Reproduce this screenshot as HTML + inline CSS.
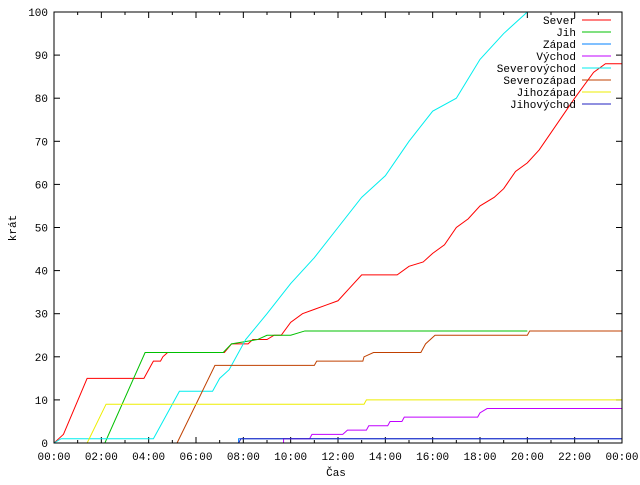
<!DOCTYPE html>
<html><head><meta charset="utf-8"><style>
body{margin:0;background:#fff}
svg text{font-family:"Liberation Mono","DejaVu Sans Mono",monospace;font-size:11px;fill:#000}
</style></head><body>
<svg id="c" width="640" height="480" xmlns="http://www.w3.org/2000/svg">
<rect width="640" height="480" fill="#fff"/>
<g id="grid"></g>
<g id="series"></g>
<rect x="54" y="12" width="568" height="431" fill="none" stroke="#000"/>
<text x="336" y="476" text-anchor="middle">Čas</text>
<text transform="translate(16,228) rotate(-90)" text-anchor="middle">krát</text>
<g id="legend"></g>
</svg>
<script>
const seriesNames=["Sever","Jih","Západ","Východ","Severovýchod","Severozápad","Jihozápad","Jihovýchod"];
const seriesColors=["#ff0000","#00c000","#0080ff","#c000ff","#00eeee","#c04000","#eeee00","#2020c0"];
const xTickLabels=["00:00","02:00","04:00","06:00","08:00","10:00","12:00","14:00","16:00","18:00","20:00","22:00","00:00"];
const yTicks=[0,10,20,30,40,50,60,70,80,90,100];
// [hour, count] pairs
const sever=[[0,0],[0.2,1],[0.4,2],[1.4,15],[3.8,15],[4.1,18],[4.2,19],[4.5,19],[4.6,20],[4.8,21],[7.2,21],[7.5,23],[8.2,23],[8.4,24],[9.0,24],[9.3,25],[9.6,25],[10.0,28],[10.5,30],[11.0,31],[11.5,32],[12.0,33],[12.5,36],[13.0,39],[14.5,39],[15.0,41],[15.6,42],[16.0,44],[16.5,46],[17.0,50],[17.5,52],[18.0,55],[18.6,57],[19.0,59],[19.5,63],[20.0,65],[20.5,68],[21.0,72],[21.5,76],[22.0,80],[22.8,86],[23.3,88],[24,88]];
const jih=[[0,0],[2.15,0],[3.85,21],[7.15,21],[7.5,23],[8.6,24],[9.0,25],[10.0,25],[10.6,26],[20.0,26]];
const zapad=[[7.8,0],[7.8,1],[24,1]];
const vychod=[[9.7,0],[9.7,1],[10.8,1],[10.9,2],[12.2,2],[12.4,3],[13.2,3],[13.3,4],[14.1,4],[14.2,5],[14.7,5],[14.8,6],[17.9,6],[18.0,7],[18.3,8],[24,8]];
const severovychod=[[0,0],[0.3,1],[4.2,1],[5.3,12],[6.7,12],[7.0,15],[7.4,17],[8.1,24],[9.0,30],[10.0,37],[11.0,43],[12.0,50],[13.0,57],[14.0,62],[15.0,70],[16.0,77],[17.0,80],[18.0,89],[19.0,95],[20.0,100]];
const severozapad=[[5.2,0],[6.8,18],[11.0,18],[11.1,19],[13.05,19],[13.1,20],[13.5,21],[15.5,21],[15.7,23],[16.1,25],[20.0,25],[20.1,26],[24,26]];
const jihozapad=[[1.4,0],[2.2,9],[13.1,9],[13.2,10],[24,10]];
const jihovychod=[[7.8,0],[7.9,1],[24,1]];
const allSeries=[sever,jih,zapad,vychod,severovychod,severozapad,jihozapad,jihovychod];
const L=54,R=622,T=12,B=443;
const xs=h=>L+h/24*(R-L), ys=v=>B-v/100*(B-T);
const NS="http://www.w3.org/2000/svg";
function mk(t,a,p){const e=document.createElementNS(NS,t);for(const k in a)e.setAttribute(k,a[k]);p.appendChild(e);return e;}
const g=document.getElementById('grid');
yTicks.forEach(v=>{const y=ys(v);
 const t=mk('line',{x1:L,x2:L+6,y1:y,y2:y,stroke:'#000'},g);
 
 mk('line',{x1:R-6,x2:R,y1:y,y2:y,stroke:'#000'},g);
 const tx=mk('text',{x:L-6,y:y+4,'text-anchor':'end'},g);tx.textContent=v;
 });
for(let h=0;h<=24;h++){const x=xs(h),len=h%2?3:6;
 mk('line',{x1:x,x2:x,y1:B,y2:B-len,stroke:'#000'},g);
 mk('line',{x1:x,x2:x,y1:T,y2:T+len,stroke:'#000'},g);}
xTickLabels.forEach((s,i)=>{const tx=mk('text',{x:xs(i*2),y:B+17,'text-anchor':'middle'},g);tx.textContent=s;
 });
const sg=document.getElementById('series');
allSeries.forEach((d,i)=>{let pts=[];d.forEach((p,j)=>{pts.push(xs(p[0])+','+ys(Math.min(p[1],100)));});
 const pl=mk('polyline',{points:pts.join(' '),fill:'none',stroke:seriesColors[i],'stroke-width':1},sg);
 });
const lg=document.getElementById('legend');
seriesNames.forEach((n,i)=>{const y=20+i*12;
 const tx=mk('text',{x:576,y:y+4,'text-anchor':'end'},lg);tx.textContent=n;
 
 mk('line',{x1:582,x2:611,y1:y,y2:y,stroke:seriesColors[i]},lg);});
</script>
</body></html>
